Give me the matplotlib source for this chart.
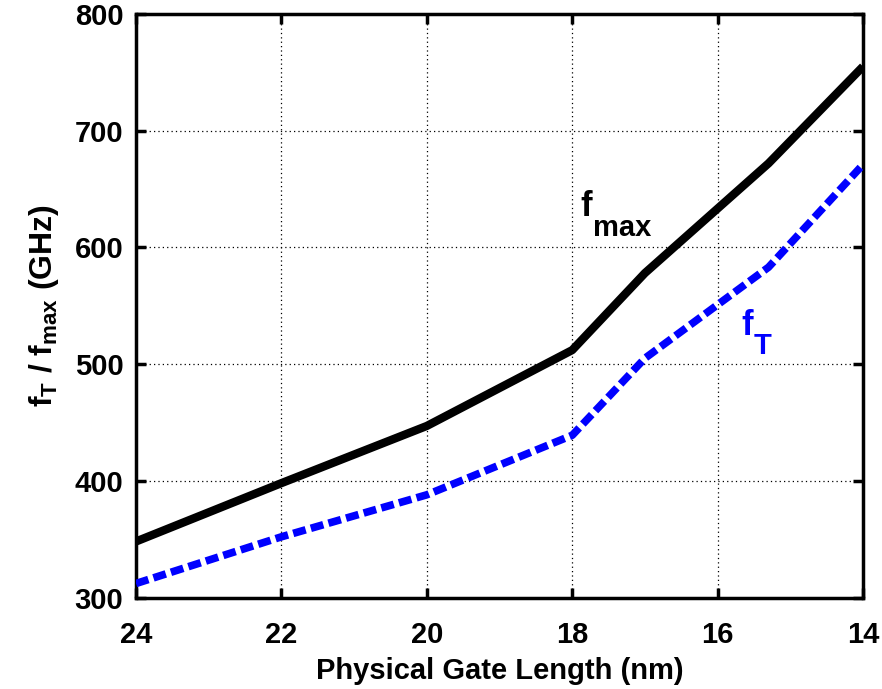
import matplotlib
matplotlib.use("Agg")
import matplotlib.pyplot as plt

# Physical gate length (nm) and cut-off frequencies (GHz)
gate_length = [24, 22, 20, 18, 17, 15.3, 14]
f_max = [348, 398, 447, 512, 578, 672, 755]
f_t = [312, 352, 388, 439, 505, 583, 671]

x_ticks = [24, 22, 20, 18, 16, 14]
y_ticks = [300, 400, 500, 600, 700, 800]

plt.rcParams['font.family'] = ['Liberation Sans', 'DejaVu Sans']
plt.rcParams['font.weight'] = 'bold'
plt.rcParams['mathtext.fontset'] = 'custom'
plt.rcParams['mathtext.rm'] = 'Liberation Sans:bold'
plt.rcParams['mathtext.it'] = 'Liberation Sans:bold'
plt.rcParams['mathtext.bf'] = 'Liberation Sans:bold'

fig = plt.figure(figsize=(8.82, 6.89), dpi=100)
ax = fig.add_axes([0.1542, 0.1328, 0.8243, 0.8469])

ax.plot(gate_length, f_max, color='black', lw=6, solid_capstyle='butt', zorder=3)
ax.plot(gate_length, f_t, color='#0000ff', lw=5.5, linestyle=(0, (1.7, 0.7)),
        dash_capstyle='butt', zorder=3)

ax.set_xlim(24, 14)
ax.set_ylim(300, 800)
ax.set_xticks(x_ticks)
ax.set_yticks(y_ticks)
ax.tick_params(direction='in', length=7, width=2.5, top=True, right=True,
               labelsize=21)
ax.tick_params(axis='x', pad=17)
ax.tick_params(axis='y', pad=9)
for lab in ax.get_xticklabels() + ax.get_yticklabels():
    lab.set_fontweight('bold')
for sp in ax.spines.values():
    sp.set_linewidth(2.5)

ax.grid(True, color='black', lw=0.9, linestyle=(0, (1, 2.5)))

ax.set_xlabel('Physical Gate Length (nm)', fontsize=21, fontweight='bold', labelpad=6)
ax.set_ylabel(r'$f_T$ / $f_{max}$ (GHz)', fontsize=23, fontweight='bold', labelpad=10)

# curve labels
ax.text(17.89, 627, 'f', fontsize=25, fontweight='bold', color='black')
ax.text(17.71, 610, 'max', fontsize=21, fontweight='bold', color='black')
ax.text(15.68, 525, 'f', fontsize=25, fontweight='bold', color='#0000ff')
ax.text(15.51, 509, 'T', fontsize=21, fontweight='bold', color='#0000ff')

fig.savefig('out.png', dpi=100)
